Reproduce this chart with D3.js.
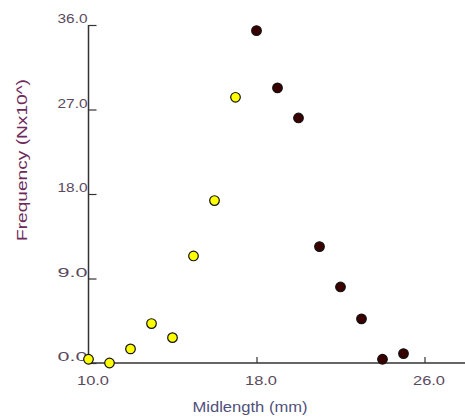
<!DOCTYPE html>
<html>
<head>
<meta charset="utf-8">
<script src="https://cdn.jsdelivr.net/npm/d3@7"></script>
<style>
  html, body { margin: 0; padding: 0; background: #fff; }
  svg { display: block; }
  text { font-family: "Liberation Sans", Arial, sans-serif; }
</style>
</head>
<body>
<svg id="chart" width="465" height="420"></svg>
<script>
// Data
const yellowMid = [10, 11, 12, 13, 14, 15, 16, 17];
const yellowFreq = [0.4, 0.0, 1.5, 4.2, 2.7, 11.4, 17.3, 28.3];
const darkMid = [18, 19, 20, 21, 22, 23, 24, 25];
const darkFreq = [35.4, 29.3, 26.1, 12.4, 8.1, 4.7, 0.4, 1.0];
const xTicks = [10, 18, 26];
const yTicks = [0, 9, 18, 27, 36];
const xLabel = "Midlength (mm)";
const yLabel = "Frequency (Nx10^)";

const svg = d3.select("#chart");
const x = d3.scaleLinear().domain([10, 28]).range([88.5, 466.5]);
const y = d3.scaleLinear().domain([0, 36]).range([363, 25]);

const fmt = d3.format(".1f");
const tickColor = "#5a4a5e";

// Y axis (ticks pointing inward)
const yAxis = d3.axisRight(y).tickValues(yTicks).tickSize(8).tickFormat(fmt);
const gy = svg.append("g").attr("transform", `translate(${x(10)},0)`).call(yAxis);
gy.select(".domain").attr("stroke", "#333").attr("stroke-width", 1.5).attr("d", `M0,${y(36)}V${y(0)}`);
gy.selectAll(".tick line").attr("stroke", "#333").attr("stroke-width", 1.2);
gy.selectAll(".tick text")
  .attr("x", -1).attr("dy", "-0.1em").attr("y", -1)
  .attr("text-anchor", "end")
  .attr("fill", tickColor)
  .attr("font-size", 13)
  .attr("textLength", 30).attr("lengthAdjust", "spacingAndGlyphs");

// X axis (ticks pointing inward/up)
const xAxis = d3.axisTop(x).tickValues(xTicks).tickSize(6).tickFormat(fmt);
const gx = svg.append("g").attr("transform", `translate(0,${y(0)})`).call(xAxis);
gx.select(".domain").attr("stroke", "#333").attr("stroke-width", 1.5).attr("d", `M${x(10)},0H465`);
gx.selectAll(".tick line").attr("stroke", "#333").attr("stroke-width", 1.2);
gx.selectAll(".tick").filter(d => d === 10).select("line").remove();
gx.selectAll(".tick text")
  .attr("y", 22).attr("dy", 0).attr("x", 4)
  .attr("text-anchor", "middle")
  .attr("fill", tickColor)
  .attr("font-size", 13)
  .attr("textLength", 32).attr("lengthAdjust", "spacingAndGlyphs");

// Axis titles
svg.append("text")
  .attr("x", 250).attr("y", 412)
  .attr("text-anchor", "middle")
  .attr("font-size", 14)
  .attr("fill", "#50507a")
  .attr("textLength", 115).attr("lengthAdjust", "spacingAndGlyphs")
  .text(xLabel);

svg.append("text")
  .attr("transform", "translate(27,160) rotate(-90)")
  .attr("text-anchor", "middle")
  .attr("font-size", 14)
  .attr("fill", "#6d2a5a")
  .attr("textLength", 162).attr("lengthAdjust", "spacingAndGlyphs")
  .text(yLabel);

// Points
const yellowData = yellowMid.map((m, i) => ({ m, f: yellowFreq[i] }));
const darkData = darkMid.map((m, i) => ({ m, f: darkFreq[i] }));

svg.append("g").selectAll("circle").data(yellowData).join("circle")
  .attr("cx", d => x(d.m)).attr("cy", d => y(d.f)).attr("r", 4.8)
  .attr("fill", "#ffff00").attr("stroke", "#111").attr("stroke-width", 1.2);

svg.append("g").selectAll("circle").data(darkData).join("circle")
  .attr("cx", d => x(d.m)).attr("cy", d => y(d.f)).attr("r", 4.8)
  .attr("fill", "#3a0000").attr("stroke", "#111").attr("stroke-width", 1.2);
</script>
</body>
</html>
